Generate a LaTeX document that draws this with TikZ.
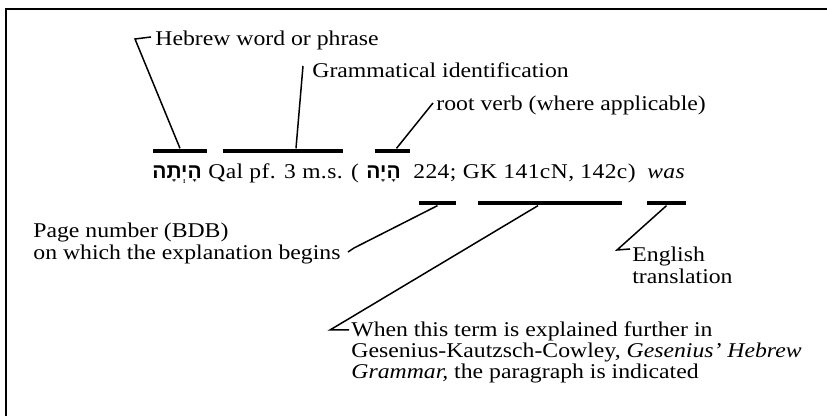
\documentclass[tikz,border=0pt]{standalone}
\usepackage{fontspec}
\setmainfont{Liberation Serif}[FakeStretch=1.13]
\newfontfamily\hebfont[Script=Hebrew]{Liberation Sans}
\newfontfamily\exfont{Liberation Serif}[FakeStretch=1.12, LetterSpace=2]
\TeXXeTstate=1
\usetikzlibrary{calc}

\begin{document}
\begin{tikzpicture}[
    x=0.5pt, y=-0.5pt,
    every node/.style={inner sep=0pt, font=\fontsize{10.5}{8.6}\selectfont},
    note/.style={anchor=base west},
    block/.style={anchor=north west, align=left},
    bar/.style={fill=black, minimum height=2.25pt},
    leader/.style={line width=0.75pt}
]
\useasboundingbox (0,0) rectangle (827,416);

% frame
\draw[line width=1pt] (6,9) -- (827,9);
\draw[line width=1.4pt] (6,8.5) -- (6,416);

% labels above
\node (hword) [note] at (155,46) {Hebrew word or phrase};
\node (gram) [note] at (312,78) {Grammatical identification};
\node (root) [note] at (436,111) {root verb (where applicable)};

% the entry
\node (exword) [note] at (152,179) {\hebfont\bfseries\beginR הָיְתָה\endR};
\node (exparse) [note] at (208,179) {\exfont Qal pf. 3 m.s. (};
\node (exroot) [note] at (366,179) {\hebfont\bfseries\beginR הָיָה\endR};
\node (exref) [note] at (413,179) {\exfont 224; GK 141cN, 142c)};
\node (exgloss) [note] at (647,179) {\exfont\itshape was};

% bars
\node (b1) [bar, minimum width=27pt] at (180,151) {};
\node (b2) [bar, minimum width=60pt] at (283,151) {};
\node (b3) [bar, minimum width=17.5pt] at (392.5,151) {};
\node (b4) [bar, minimum width=18.5pt] at (437.5,203) {};
\node (b5) [bar, minimum width=72pt] at (550,203) {};
\node (b6) [bar, minimum width=19.5pt] at (666.5,203) {};

% labels below
\node (page) [block] at (33,223) {Page number (BDB)\\on which the explanation begins};
\node (gloss) [block] at (632,247) {English\\translation};
\node (gk) [block] at (351,321) {When this term is explained further in\\Gesenius-Kautzsch-Cowley, \textit{Gesenius' Hebrew}\\\textit{Grammar,} the paragraph is indicated};

% leaders
\coordinate (k1) at (135,39);
\coordinate (e1) at (151,37);
\coordinate (e2) at (303,66);
\coordinate (e3) at (433,103);
\coordinate (k4) at (354,248);
\coordinate (e4) at (348,252);
\coordinate (k5) at (330,330);
\coordinate (e5) at (349,330);
\coordinate (k6) at (617,250);
\coordinate (e6) at (630,249);

\draw[leader] (b1.north) -- (k1) -- (e1);
\draw[leader] ($(b2.north)+(13,0)$) -- (e2);
\draw[leader] ($(b3.north)+(4,0)$) -- (e3);
\draw[leader] (b4.south) -- (k4) -- (e4);
\draw[leader] ($(b5.south)+(-12,0)$) -- (k5) -- (e5);
\draw[leader] (b6.south) -- (k6) -- (e6);

\end{tikzpicture}
\end{document}
